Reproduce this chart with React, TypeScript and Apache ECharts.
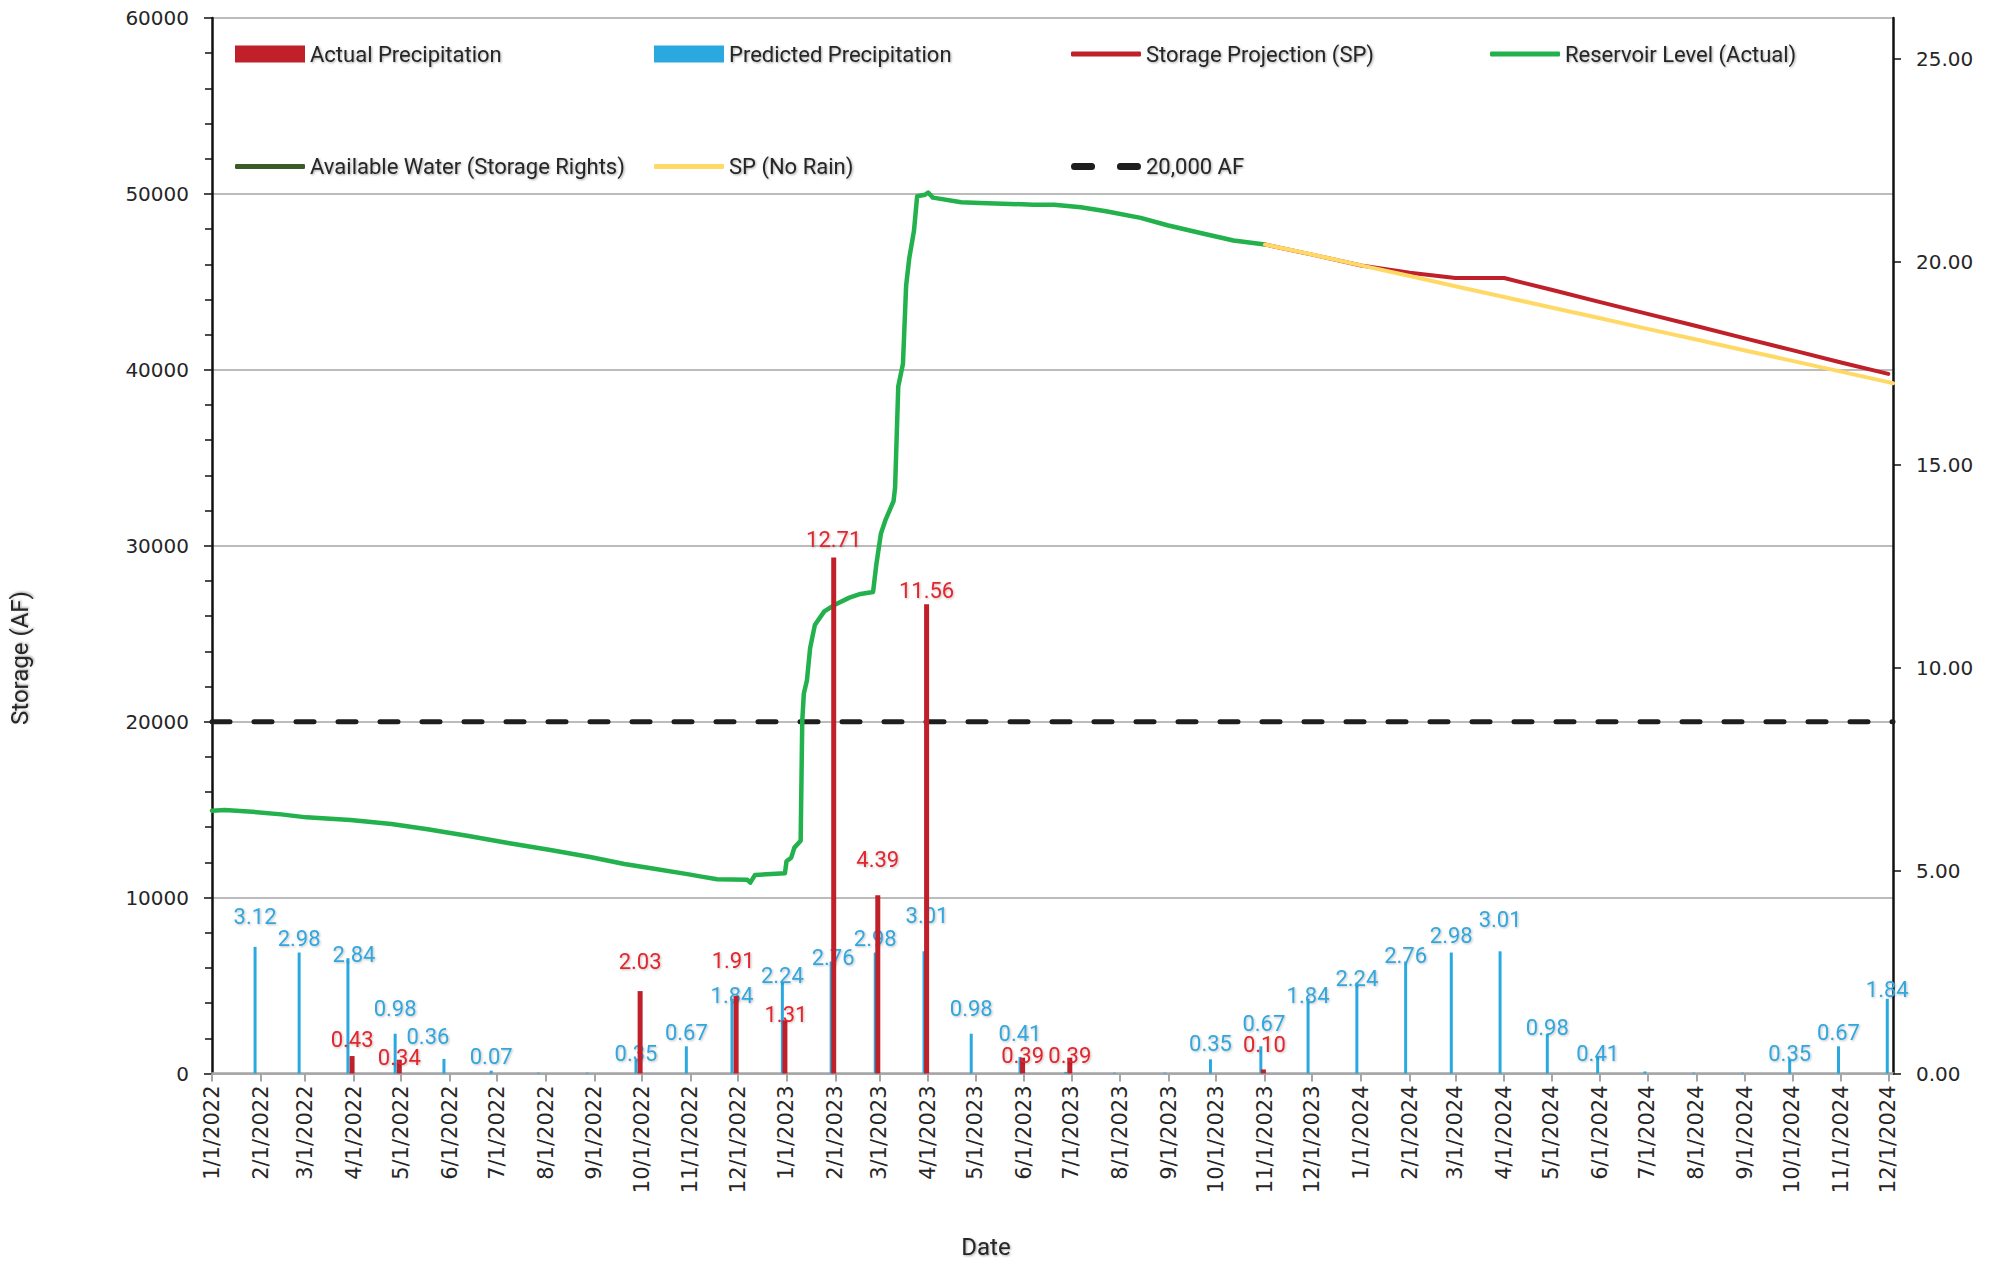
import React, { useEffect, useRef } from "react";
import * as echarts from "echarts";

// ---------- DATA ----------
const START = "2022-01-01";
const END = "2024-12-04";

const storageTicks = [0, 10000, 20000, 30000, 40000, 50000, 60000];
const precipTicks = [0, 5, 10, 15, 20, 25];

const reservoirLevel: [string, number][] = [
  ["2022-01-01", 14940], ["2022-01-09", 14980], ["2022-01-24", 14900], ["2022-02-14", 14730],
  ["2022-03-02", 14560], ["2022-03-30", 14410], ["2022-04-25", 14180], ["2022-05-18", 13880],
  ["2022-06-13", 13500], ["2022-07-09", 13090], ["2022-08-04", 12710], ["2022-08-30", 12290],
  ["2022-09-20", 11910], ["2022-10-05", 11700], ["2022-10-31", 11320], ["2022-11-08", 11190],
  ["2022-11-18", 11040], ["2022-12-07", 11020], ["2022-12-09", 10850], ["2022-12-12", 11290],
  ["2022-12-31", 11380], ["2023-01-01", 12060], ["2023-01-04", 12270], ["2023-01-06", 12840],
  ["2023-01-10", 13230], ["2023-01-11", 20010], ["2023-01-12", 21580], ["2023-01-14", 22360],
  ["2023-01-16", 24180], ["2023-01-19", 25490], ["2023-01-25", 26270], ["2023-02-01", 26660],
  ["2023-02-10", 27050], ["2023-02-17", 27260], ["2023-02-25", 27370], ["2023-02-27", 28880],
  ["2023-03-02", 30700], ["2023-03-05", 31490], ["2023-03-10", 32530], ["2023-03-11", 33310],
  ["2023-03-13", 39050], ["2023-03-16", 40350], ["2023-03-18", 44780], ["2023-03-20", 46350],
  ["2023-03-23", 47910], ["2023-03-25", 49870], ["2023-03-30", 49950], ["2023-04-01", 50080],
  ["2023-04-04", 49790], ["2023-04-22", 49530], ["2023-05-04", 49490], ["2023-06-07", 49390],
  ["2023-06-20", 49390], ["2023-07-07", 49240], ["2023-07-23", 49010], ["2023-08-14", 48640],
  ["2023-08-31", 48220], ["2023-09-21", 47780], ["2023-10-12", 47350], ["2023-11-01", 47120],
];

const storageProjection: [string, number][] = [
  ["2023-11-01", 47120], ["2023-12-01", 46550], ["2024-01-01", 45930], ["2024-02-01", 45520],
  ["2024-03-01", 45220], ["2024-04-01", 45220], ["2024-05-01", 44550], ["2024-06-01", 43850],
  ["2024-07-01", 43180], ["2024-08-01", 42490], ["2024-09-01", 41790], ["2024-10-01", 41120],
  ["2024-11-01", 40420], ["2024-12-01", 39770],
];

const spNoRain: [string, number][] = [
  ["2023-11-01", 47120], ["2023-12-01", 46560], ["2024-01-01", 45940], ["2024-02-01", 45330],
  ["2024-03-01", 44750], ["2024-04-01", 44140], ["2024-05-01", 43540], ["2024-06-01", 42930],
  ["2024-07-01", 42330], ["2024-08-01", 41720], ["2024-09-01", 41100], ["2024-10-01", 40510],
  ["2024-11-01", 39900], ["2024-12-01", 39300], ["2024-12-04", 39240],
];

const availableWater: [string, number][] = [];

const threshold: [string, number][] = [[START, 20000], [END, 20000]];

const predictedPrecip: [string, number][] = [
  ["2022-01-29", 3.12], ["2022-02-26", 2.98], ["2022-03-29", 2.84], ["2022-04-28", 0.98],
  ["2022-05-29", 0.36], ["2022-06-28", 0.07], ["2022-07-28", 0.02], ["2022-08-28", 0.02],
  ["2022-09-28", 0.35], ["2022-10-30", 0.67], ["2022-11-28", 1.84], ["2022-12-30", 2.24],
  ["2023-01-30", 2.76], ["2023-02-27", 2.98], ["2023-03-30", 3.01], ["2023-04-29", 0.98],
  ["2023-05-30", 0.41], ["2023-06-28", 0.04], ["2023-07-29", 0.02], ["2023-08-30", 0.02],
  ["2023-09-28", 0.35], ["2023-10-30", 0.67], ["2023-11-29", 1.84], ["2023-12-30", 2.24],
  ["2024-01-30", 2.76], ["2024-02-28", 2.98], ["2024-03-30", 3.01], ["2024-04-29", 0.98],
  ["2024-05-31", 0.41], ["2024-06-30", 0.05], ["2024-07-31", 0.02], ["2024-08-31", 0.02],
  ["2024-09-30", 0.35], ["2024-10-31", 0.67], ["2024-12-01", 1.84],
];

const actualPrecip: [string, number][] = [
  ["2022-03-31", 0.43], ["2022-04-30", 0.34], ["2022-09-30", 2.03], ["2022-11-30", 1.91],
  ["2022-12-31", 1.31], ["2023-01-31", 12.71], ["2023-02-28", 4.39], ["2023-03-31", 11.56],
  ["2023-05-31", 0.39], ["2023-06-30", 0.39], ["2023-10-31", 0.1],
];

// ---------- LABEL PLACEMENT (style only: pixel shifts of data labels) ----------
const predictedLabelShift: Record<string, [number, number]> = {
  "2022-01-29": [0, -16], "2022-03-29": [6, 10], "2022-04-28": [0, -11], "2022-05-29": [-16, -8],
  "2022-09-28": [0, 8], "2022-11-28": [0, 11], "2022-12-30": [0, 7], "2023-01-30": [2, 10],
  "2023-03-30": [3, -22], "2023-04-29": [0, -11], "2023-05-30": [0, -9], "2023-09-28": [0, -2],
  "2023-10-30": [3, -9], "2023-11-29": [0, 11], "2023-12-30": [0, 10], "2024-01-30": [0, 8],
  "2024-02-28": [0, -3], "2024-03-30": [0, -18], "2024-04-29": [0, 8], "2024-05-31": [0, 11],
  "2024-09-30": [0, 8], "2024-12-01": [0, 5],
};
const actualLabelShift: Record<string, [number, number]> = {
  "2022-03-31": [0, -3], "2022-04-30": [0, 12], "2022-09-30": [0, -16], "2022-11-30": [-3, -21],
  "2022-12-31": [1, 8], "2023-01-31": [0, -4], "2023-02-28": [0, -22], "2023-05-31": [0, 12],
  "2023-06-30": [0, 12], "2023-10-31": [1, -11],
};

// ---------- HELPERS ----------
const DAY0 = Date.UTC(2022, 0, 1);
function idx(s: string): number {
  const [y, m, d] = s.split("-").map(Number);
  return Math.round((Date.UTC(y, m - 1, d) - DAY0) / 86400000);
}
const categories: string[] = [];
for (let i = 0; i <= idx(END); i++) {
  const dt = new Date(DAY0 + i * 86400000);
  categories.push(`${dt.getUTCMonth() + 1}/${dt.getUTCDate()}/${dt.getUTCFullYear()}`);
}
const isMonthStart = (_i: number, v: string) => String(v).split("/")[1] === "1";
const toXY = (arr: [string, number][]) => arr.map(([d, v]) => [idx(d), v]);

const C = {
  red: "#C0202A",
  redText: "#E3262D",
  blue: "#2AA9E0",
  blueText: "#33A6DD",
  green: "#22B14C",
  darkGreen: "#3A5A28",
  yellow: "#FFD966",
  black: "#1E1E1E",
  grid: "#A6A6A6",
  text: "#262626",
};

const shadow = {
  textShadowColor: "rgba(0,0,0,0.35)",
  textShadowBlur: 2,
  textShadowOffsetX: 1,
  textShadowOffsetY: 1,
};

function lineSeries(name: string, data: [string, number][], color: string, width: number, extra: any = {}) {
  return {
    type: "line",
    name,
    data: toXY(data),
    symbol: "none",
    showSymbol: false,
    lineStyle: { color, width, cap: "round", join: "round", ...(extra.lineStyle || {}) },
    itemStyle: { color },
    z: extra.z ?? 2,
    silent: true,
  };
}

function barSeries(
  name: string,
  data: [string, number][],
  shifts: Record<string, [number, number]>,
  color: string,
  textColor: string,
  width: number,
  z: number
) {
  return {
    type: "bar",
    name,
    yAxisIndex: 1,
    data: data.map(([d, v]) => ({
      value: [idx(d), v],
      label: { offset: shifts[d] || [0, 0] },
    })),
    barWidth: width,
    barGap: "-100%",
    itemStyle: { color },
    z,
    label: {
      show: true,
      position: "top",
      distance: 3,
      color: textColor,
      fontFamily: "Roboto",
      fontSize: 22,
      ...shadow,
      textShadowColor: "rgba(0,0,0,0.25)",
      formatter: (p: any) => (p.value[1] >= 0.07 ? p.value[1].toFixed(2) : ""),
    },
  };
}

const DASH_ICON =
  "path://M3,0h16a3,3 0 0 1 0,6h-16a3,3 0 0 1 0,-6z M45,0h16a3,3 0 0 1 0,6h-16a3,3 0 0 1 0,-6z";

const legendItems = [
  { name: "Actual Precipitation", left: 235, cy: 56, icon: "rect", h: 17 },
  { name: "Predicted Precipitation", left: 654, cy: 56, icon: "rect", h: 17 },
  { name: "Storage Projection (SP)", left: 1071, cy: 56, icon: "roundRect", h: 5 },
  { name: "Reservoir Level (Actual)", left: 1490, cy: 56, icon: "roundRect", h: 5 },
  { name: "Available Water (Storage Rights)", left: 235, cy: 168.5, icon: "roundRect", h: 5 },
  { name: "SP (No Rain)", left: 654, cy: 168.5, icon: "roundRect", h: 5 },
  { name: "20,000 AF", left: 1071, cy: 168.5, icon: DASH_ICON, h: 7 },
];

export default function App() {
  const ref = useRef<HTMLDivElement>(null);
  useEffect(() => {
    document.body.style.margin = "0";
    const chart = echarts.init(ref.current!, undefined, { renderer: "svg" });
    chart.setOption({
      animation: false,
      backgroundColor: "#ffffff",
      grid: { left: 212, right: 99, top: 18, bottom: 187.5, containLabel: false },
      legend: legendItems.map((l) => ({
        data: [l.name],
        left: l.left,
        top: l.cy - 13,
        height: 26,
        orient: "horizontal",
        itemWidth: 70,
        itemHeight: l.h,
        itemGap: 0,
        padding: 0,
        selectedMode: false,
        symbolKeepAspect: false,
        icon: l.icon,
        textStyle: { fontFamily: "Roboto", fontSize: 22, color: C.text, ...shadow },
      })),
      graphic: [
        {
          type: "text",
          x: 20,
          y: 658,
          rotation: Math.PI / 2,
          style: {
            text: "Storage (AF)",
            align: "center",
            verticalAlign: "middle",
            fontFamily: "Roboto",
            fontSize: 24,
            fill: C.text,
            ...shadow,
          },
        },
        {
          type: "text",
          x: 986,
          y: 1247,
          style: {
            text: "Date",
            align: "center",
            verticalAlign: "middle",
            fontFamily: "Roboto",
            fontSize: 24,
            fill: C.text,
            ...shadow,
          },
        },
      ],
      xAxis: {
        type: "category",
        data: categories,
        boundaryGap: false,
        axisLine: { show: true, lineStyle: { color: C.grid, width: 2.5 } },
        axisTick: { show: true, interval: isMonthStart, length: 8, lineStyle: { color: C.grid, width: 2 } },
        axisLabel: {
          interval: isMonthStart,
          rotate: 90,
          margin: 12,
          fontFamily: "DejaVu Sans",
          fontSize: 21,
          color: C.text,
        },
        splitLine: { show: false },
      },
      yAxis: [
        {
          type: "value",
          min: 0,
          max: 60000,
          interval: 10000,
          position: "left",
          axisLine: { show: true, lineStyle: { color: "#111", width: 2.5 } },
          axisTick: { show: true, length: 8, lineStyle: { color: "#111", width: 1.5 } },
          minorTick: { show: true, splitNumber: 5, length: 7, lineStyle: { color: "#111", width: 1.5 } },
          axisLabel: {
            margin: 23,
            fontFamily: "DejaVu Sans",
            fontSize: 20,
            color: C.text,
            customValues: storageTicks,
            formatter: (v: number) => String(Math.round(v)),
          },
          splitLine: { show: true, lineStyle: { color: C.grid, width: 1.5 } },
        },
        {
          type: "value",
          min: 0,
          max: 26,
          position: "right",
          axisLine: { show: true, lineStyle: { color: "#111", width: 2.5 } },
          axisTick: { show: true, length: 8, customValues: precipTicks, lineStyle: { color: "#111", width: 1.5 } },
          axisLabel: {
            margin: 23,
            fontFamily: "DejaVu Sans",
            fontSize: 20,
            color: C.text,
            customValues: precipTicks,
            formatter: (v: number) => v.toFixed(2),
          },
          splitLine: { show: false },
        },
      ],
      series: [
        lineSeries("20,000 AF", threshold, C.black, 5, { lineStyle: { type: [18, 24], cap: "round" }, z: 2 }),
        lineSeries("Available Water (Storage Rights)", availableWater, C.darkGreen, 4, { z: 3 }),
        lineSeries("Reservoir Level (Actual)", reservoirLevel, C.green, 4.5, { z: 4 }),
        lineSeries("Storage Projection (SP)", storageProjection, C.red, 4, { z: 4 }),
        lineSeries("SP (No Rain)", spNoRain, C.yellow, 4, { z: 5 }),
        barSeries("Predicted Precipitation", predictedPrecip, predictedLabelShift, C.blue, C.blueText, 3, 6),
        barSeries("Actual Precipitation", actualPrecip, actualLabelShift, C.red, C.redText, 5, 7),
      ],
    });
    return () => chart.dispose();
  }, []);
  return <div ref={ref} style={{ width: 1992, height: 1261 }} />;
}
